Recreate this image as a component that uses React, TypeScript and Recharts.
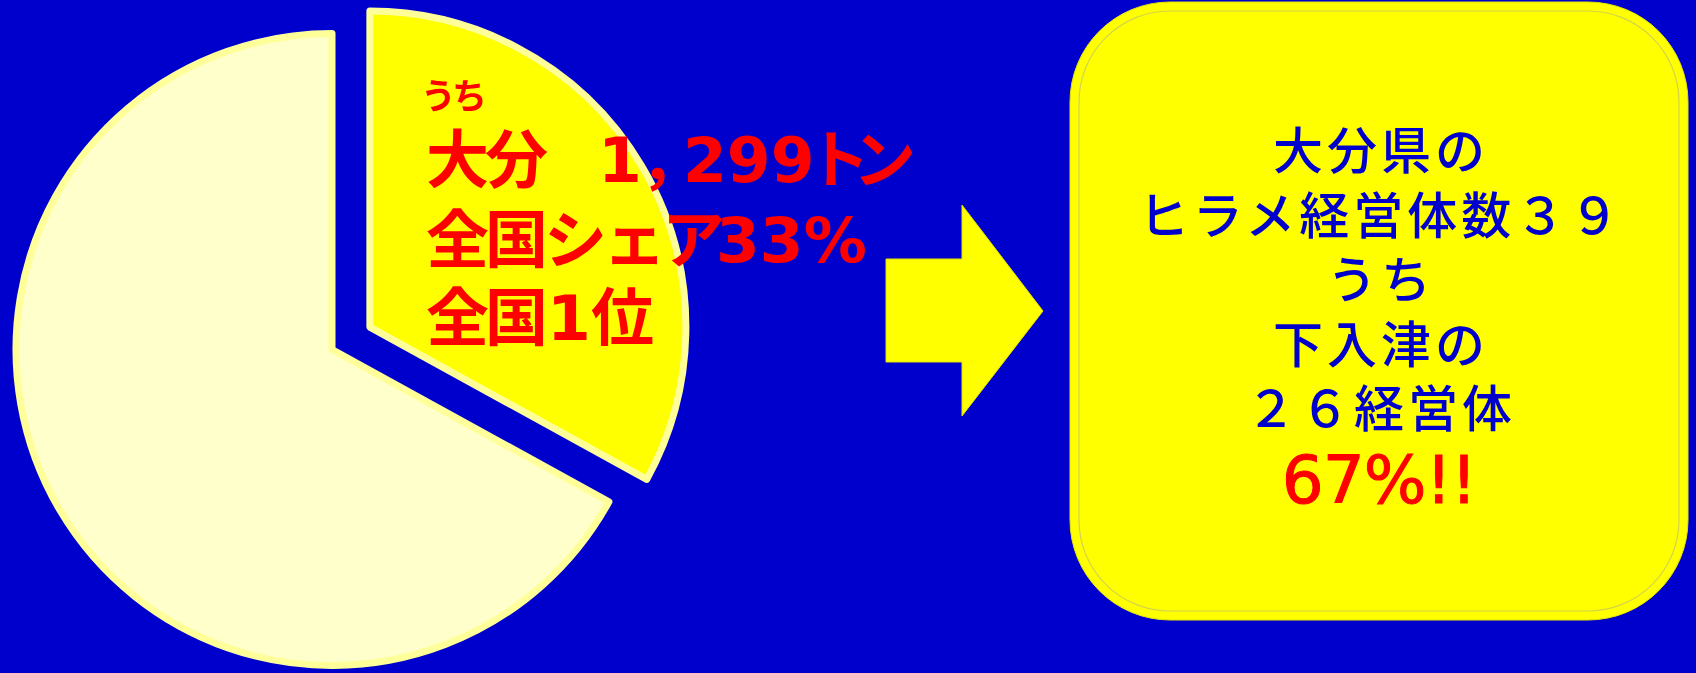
import React from "react";
import { PieChart, Pie, Cell } from "recharts";

// ---- data ----
const categories = ["大分", "その他"];
const tonnage = [1299, 2637];
const pieNote = "うち";
const line1 = { name: "大分", amount: "1", comma: "，", amount2: "299", unitA: "ト", unitB: "ン" };
const line2 = { label: "全国シェア", share: "33%" };
const line3 = { a: "全国", rank: "1", b: "位" };
const boxLines = ["大分県の", "ヒラメ経営体数３９", "うち", "下入津の", "２６経営体"];
const boxHighlight = "67%!!";

const data = categories.map((name, i) => ({ name, value: tonnage[i] }));

// ---- layout / style ----
const W = 1696;
const H = 673;
const BG = "#0000CC";
const CX = 332;
const CY = 349.5;
const R = 316;
const EXPLODE = 44;
const total = tonnage.reduce((a, b) => a + b, 0);
const midDeg = 90 - (tonnage[0] / total) * 180;
const EX = CX + EXPLODE * Math.cos((midDeg * Math.PI) / 180);
const EY = CY - EXPLODE * Math.sin((midDeg * Math.PI) / 180);

const CJK = "'Noto Sans CJK JP', 'Noto Sans', sans-serif";
const LATIN = "'DejaVu Sans', 'Noto Sans CJK JP', sans-serif";

const BOX = { x: 1070, y: 2, w: 618, h: 618, r: 100 };
const BOX_CX = BOX.x + BOX.w / 2;

export default function App() {
  return (
    <div style={{ position: "absolute", left: 0, top: 0, width: W, height: H, background: BG, overflow: "hidden" }}>
      <PieChart width={W} height={H} margin={{ top: 0, right: 0, bottom: 0, left: 0 }}>
        <Pie
          data={data}
          dataKey="value"
          nameKey="name"
          cx={CX}
          cy={CY}
          innerRadius={0}
          outerRadius={R}
          startAngle={90}
          endAngle={-270}
          isAnimationActive={false}
          stroke="#FFFF99"
          strokeWidth={7}
        >
          <Cell fill="none" stroke="none" />
          <Cell fill="#FFFFCC" stroke="#FFFF99" strokeWidth={7} strokeLinejoin="round" />
        </Pie>
        <Pie
          data={data}
          dataKey="value"
          nameKey="name"
          cx={EX}
          cy={EY}
          innerRadius={0}
          outerRadius={R}
          startAngle={90}
          endAngle={-270}
          isAnimationActive={false}
          stroke="#FFFF99"
          strokeWidth={7}
        >
          <Cell fill="#FFFF00" stroke="#FFFF99" strokeWidth={7} strokeLinejoin="round" />
          <Cell fill="none" stroke="none" />
        </Pie>
      </PieChart>

      <svg
        width={W}
        height={H}
        style={{ position: "absolute", left: 0, top: 0, pointerEvents: "none" }}
      >
        <g fill="#FF0000" fontWeight="bold" fontSize={63}>
          <text x={421} y={109} fontSize={35} fontFamily={CJK} letterSpacing={-4}>{pieNote}</text>
          <text y={182}>
            <tspan x={426} fontFamily={CJK} letterSpacing={-4}>{line1.name}</tspan>
            <tspan x={598} fontFamily={LATIN}>{line1.amount}</tspan>
            <tspan x={640} fontFamily={CJK}>{line1.comma}</tspan>
            <tspan x={683} fontFamily={LATIN}>{line1.amount2}</tspan>
            <tspan x={807} fontFamily={CJK}>{line1.unitA}</tspan>
            <tspan x={853} fontFamily={CJK}>{line1.unitB}</tspan>
          </text>
          <text y={262}>
            <tspan x={426} fontFamily={CJK} letterSpacing={-4}>{line2.label}</tspan>
            <tspan x={716} fontFamily={LATIN}>{line2.share}</tspan>
          </text>
          <text y={340}>
            <tspan x={426} fontFamily={CJK} letterSpacing={-4}>{line3.a}</tspan>
            <tspan x={547} fontFamily={LATIN}>{line3.rank}</tspan>
            <tspan x={591} fontFamily={CJK}>{line3.b}</tspan>
          </text>
        </g>

        <polygon
          points="886,259 962,259 962,205 1043,311 962,416 962,362 886,362"
          fill="#FFFF00"
          stroke="#E0E000"
          strokeWidth={1}
        />

        <rect x={BOX.x} y={BOX.y} width={BOX.w} height={BOX.h} rx={BOX.r} ry={BOX.r} fill="#FFFF00" stroke="#E6E600" strokeWidth={1} />
        <rect
          x={BOX.x + 9}
          y={BOX.y + 9}
          width={BOX.w - 18}
          height={BOX.h - 18}
          rx={BOX.r - 9}
          ry={BOX.r - 9}
          fill="none"
          stroke="#D4D44A"
          strokeWidth={1.2}
        />
        <g fontFamily={CJK} fill="#0000CC" fontWeight={500} textAnchor="middle" fontSize={50} letterSpacing={4}>
          {boxLines.map((t, i) => (
            <text key={i} x={BOX_CX + 2} y={169 + i * 64.5}>
              {t}
            </text>
          ))}
        </g>
        <text x={BOX_CX} y={503} fontFamily={LATIN} fill="#FF0000" fontSize={66} textAnchor="middle" letterSpacing={-1} stroke="#FF0000" strokeWidth={1}>
          {boxHighlight}
        </text>
      </svg>
    </div>
  );
}
